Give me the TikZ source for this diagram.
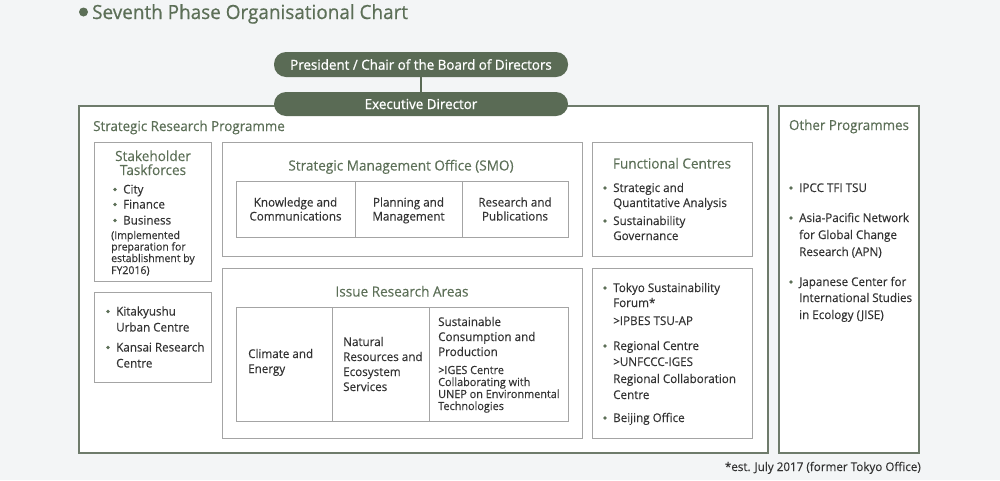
\documentclass[tikz,border=0pt]{standalone}
\usepackage{fontspec}
\setmainfont[FakeStretch=0.97,FakeBold=0.25]{Open Sans}
\newfontfamily\pillfont[FakeStretch=0.97,FakeBold=0.9]{Open Sans}
\newfontfamily\titlefont[FakeStretch=0.97,FakeBold=0.6]{Open Sans}
\definecolor{bg}{HTML}{F3F5F6}
\definecolor{grn}{HTML}{5C6F57}
\definecolor{pillc}{HTML}{5A6B55}
\definecolor{obord}{HTML}{6E7B6B}
\definecolor{ibord}{HTML}{A4A4A4}
\definecolor{txt}{HTML}{333333}
\tikzset{
  ibox/.style={draw=ibord, fill=white, line width=1pt, inner sep=0pt},
  obox/.style={draw=obord, fill=white, line width=1.5pt, inner sep=0pt},
  pill/.style={fill=pillc, rounded corners=12pt, minimum width=294pt, inner sep=0pt, text=white, font=\pillfont\fontsize{13.8}{15}\selectfont},
  tl/.style={anchor=base west, inner sep=0pt, text=txt, font=\fontsize{12}{14}\selectfont},
  ts/.style={anchor=base west, inner sep=0pt, text=txt, font=\fontsize{11.2}{13}\selectfont},
  tn/.style={anchor=base west, inner sep=0pt, text=txt, font=\fontsize{10.8}{13}\selectfont},
  tc/.style={anchor=base, inner sep=0pt, text=txt, font=\fontsize{12}{14}\selectfont},
  hd/.style={anchor=base, inner sep=0pt, text=grn, font=\fontsize{14}{16}\selectfont},
  bul/.style={fill=grn},
}
\begin{document}
\begin{tikzpicture}[x=1pt,y=-1pt]
\fill[bg] (0,0) rectangle (1000,480);
\useasboundingbox (0,0) rectangle (1000,480);
% title
\fill[grn] (83.5,12) circle (4.5pt);
\node[anchor=base west, inner sep=0pt, text=grn, font=\titlefont\fontsize{19.5}{21}\selectfont] (title) at (92,19) {Seventh Phase Organisational Chart};
% outer boxes
\node[obox, minimum width=689pt, minimum height=347pt] (srp) at (423.5,279.5) {};
\node[obox, minimum width=140pt, minimum height=347pt] (oth) at (849,279.5) {};
% pills
\node[pill, minimum height=25pt] (pres) at (421,64.5) {President / Chair of the Board of Directors};
\node[pill, minimum height=24pt] (exec) at (421,104) {Executive Director};
\draw[pillc, line width=1.2pt] (pres.south) -- (exec.north);
\node[anchor=base west, inner sep=0pt, text=grn, font=\fontsize{13.8}{15}\selectfont] (srpt) at (93,131) {Strategic Research Programme};
\node[anchor=base, inner sep=0pt, text=grn, font=\fontsize{13.8}{15}\selectfont] (otht) at (849,130) {Other Programmes};
% inner boxes
\node[ibox, minimum width=117pt, minimum height=139pt] (stk) at (152.5,211.5) {};
\node[ibox, minimum width=117pt, minimum height=90pt] (kit) at (152.5,337) {};
\node[ibox, minimum width=360pt, minimum height=114pt] (smo) at (402,199) {};
\node[ibox, minimum width=360pt, minimum height=170pt] (ira) at (402,353) {};
\node[ibox, minimum width=160pt, minimum height=114pt] (fc) at (672,199) {};
\node[ibox, minimum width=160pt, minimum height=170pt] (tok) at (672,353) {};
% SMO table
\node[ibox, minimum width=119pt, minimum height=56pt] (c1) at (295.5,209) {};
\node[ibox, minimum width=107pt, minimum height=56pt] (c2) at (408.5,209) {};
\node[ibox, minimum width=106pt, minimum height=56pt] (c3) at (515,209) {};
% IRA table
\node[ibox, minimum width=96pt, minimum height=114pt] (d1) at (284,364) {};
\node[ibox, minimum width=97pt, minimum height=114pt] (d2) at (380.5,364) {};
\node[ibox, minimum width=139pt, minimum height=114pt] (d3) at (498.5,364) {};
% Stakeholder
\node[hd] (stk1) at (153,161) {Stakeholder};
\node[hd] (stk2) at (153,175) {Taskforces};
\fill[bul] (115,189.5) circle (1.8pt);
\node[tl] (s1) at (123,193.5) {City};
\fill[bul] (115,204.5) circle (1.8pt);
\node[tl] (s2) at (123,208.5) {Finance};
\fill[bul] (115,220.5) circle (1.8pt);
\node[tl] (s3) at (123,224.5) {Business};
\node[tn] (n1) at (111,239) {(Implemented};
\node[tn] (n2) at (111,250.5) {preparation for};
\node[tn] (n3) at (111,262) {establishment by};
\node[tn] (n4) at (111,274) {FY2016)};
% Kitakyushu
\fill[bul] (108,311.5) circle (1.8pt);
\node[tl] (k1) at (116,315.5) {Kitakyushu};
\node[tl] (k2) at (116,331.5) {Urban Centre};
\fill[bul] (108,347.5) circle (1.8pt);
\node[tl] (k3) at (116,351.5) {Kansai Research};
\node[tl] (k4) at (116,367.5) {Centre};
% SMO
\node[hd] (smot) at (401,170.5) {Strategic Management Office (SMO)};
\node[tc] (c1a) at (295.5,206.5) {Knowledge and};
\node[tc] (c1b) at (295.5,220.5) {Communications};
\node[tc] (c2a) at (408.5,206.5) {Planning and};
\node[tc] (c2b) at (408.5,220.5) {Management};
\node[tc] (c3a) at (515,206.5) {Research and};
\node[tc] (c3b) at (515,220.5) {Publications};
% IRA
\node[hd] (irat) at (402,296.5) {Issue Research Areas};
\node[tl] (d1a) at (248,358) {Climate and};
\node[tl] (d1b) at (248,373) {Energy};
\node[tl] (d2a) at (343,346) {Natural};
\node[tl] (d2b) at (343,361) {Resources and};
\node[tl] (d2c) at (343,376) {Ecosystem};
\node[tl] (d2d) at (343,391) {Services};
\node[tl] (d3a) at (438,326) {Sustainable};
\node[tl] (d3b) at (438,341) {Consumption and};
\node[tl] (d3c) at (438,356) {Production};
\node[ts] (d3d) at (438,374) {>IGES Centre};
\node[ts] (d3e) at (438,386) {Collaborating with};
\node[ts] (d3f) at (438,398) {UNEP on Environmental};
\node[ts] (d3g) at (438,410) {Technologies};
% Functional Centres
\node[hd] (fct) at (672,168.5) {Functional Centres};
\fill[bul] (605,188) circle (1.8pt);
\node[tl] (f1) at (613,192) {Strategic and};
\node[tl] (f2) at (613,207) {Quantitative Analysis};
\fill[bul] (605,221) circle (1.8pt);
\node[tl] (f3) at (613,225) {Sustainability};
\node[tl] (f4) at (613,240) {Governance};
% Tokyo
\fill[bul] (605,288) circle (1.8pt);
\node[tl] (o1) at (613,292) {Tokyo Sustainability};
\node[tl] (o2) at (613,307) {Forum*};
\node[tl] (o3) at (613,325) {>IPBES TSU-AP};
\fill[bul] (605,346) circle (1.8pt);
\node[tl] (o4) at (613,350) {Regional Centre};
\node[tl] (o5) at (613,366) {>UNFCCC-IGES};
\node[tl] (o6) at (613,383) {Regional Collaboration};
\node[tl] (o7) at (613,399) {Centre};
\fill[bul] (605,418) circle (1.8pt);
\node[tl] (o8) at (613,422) {Beijing Office};
% Other programmes
\fill[bul] (791,188) circle (1.8pt);
\node[tl] (p1) at (799,192) {IPCC TFI TSU};
\fill[bul] (791,218) circle (1.8pt);
\node[tl] (p2) at (799,222) {Asia-Pacific Network};
\node[tl] (p3) at (799,239) {for Global Change};
\node[tl] (p4) at (799,256) {Research (APN)};
\fill[bul] (791,282) circle (1.8pt);
\node[tl] (p5) at (799,286) {Japanese Center for};
\node[tl] (p6) at (799,302) {International Studies};
\node[tl] (p7) at (799,319) {in Ecology (JISE)};
% footnote
\node[anchor=base east, inner sep=0pt, text=txt, font=\fontsize{12}{14}\selectfont] (foot) at (921,471) {*est. July 2017 (former Tokyo Office)};
\end{tikzpicture}
\end{document}
